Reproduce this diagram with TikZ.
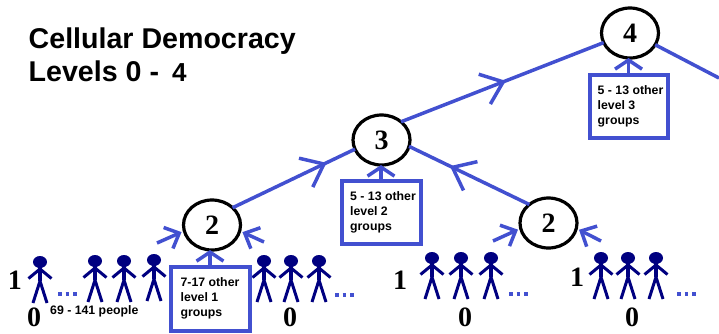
\documentclass[tikz,border=0pt]{standalone}
\usepackage{fontspec}
\setmainfont{Liberation Sans}
\newfontfamily\serifdigits{Liberation Serif}
\usetikzlibrary{shapes.geometric,arrows.meta,decorations.markings}
\definecolor{linkblue}{RGB}{66,80,208}
\definecolor{peoplenavy}{RGB}{0,0,128}
\tikzset{
  level/.style={draw=black,ellipse,line width=3.2pt,minimum width=57pt,minimum height=50pt,inner sep=0pt,outer sep=0pt,fill=white,font=\serifdigits\bfseries\fontsize{28}{28}\selectfont},
  digit/.style={inner sep=0pt,font=\serifdigits\bfseries\fontsize{28}{28}\selectfont},
  otherbox/.style={draw=linkblue,fill=white,line width=4pt,rectangle,inner sep=0pt,outer sep=0pt,align=left,font=\bfseries\fontsize{12.3}{15}\selectfont},
  link/.style={draw=linkblue,line width=3.5pt},
  midbarb/.style={decoration={markings,mark=at position #1 with {\arrow[linkblue,line width=3.5pt]{Straight Barb[length=20pt,width=32pt]}}},postaction={decorate}},
  endbarb/.style={-{Straight Barb[length=12pt,width=23pt]},shorten >=3pt},
  upbarb/.style={-{Straight Barb[length=9pt,width=27pt]}},
  dots/.style={draw=linkblue,line width=3.4pt,dash pattern=on 3.5pt off 4pt},
  person/.pic={
    \fill[peoplenavy] (0,0) ellipse[x radius=7,y radius=6];
    \draw[peoplenavy,line width=3.2pt] (0,4) -- (0,19);
    \draw[peoplenavy,line width=3pt] (-11.5,16.5) -- (0,7) -- (11.5,16.5);
    \draw[peoplenavy,line width=3pt] (-7,41) -- (0,19) -- (7,41);
  }
}
\begin{document}
\begin{tikzpicture}[x=1pt,y=-1pt]
\useasboundingbox (0,0) rectangle (719,333);
% people
\foreach \px/\py in {40/262,95/261,124/261,154/260,264/261,291/261,319/261,432/258,461/258,491/258,601/258,628/258,656/258}
  \pic at (\px,\py) {person};
% dots
\foreach \dx/\dy in {58/294,335/295,509/294,677/294}
  \draw[dots] (\dx,\dy) -- ++(20,0);
% digits 0 and 1
\node[digit] (oneA) at (15,280) {1};
\node[digit] (oneB) at (400,280) {1};
\node[digit] (oneC) at (577,277) {1};
\node[digit] (zeroA) at (34,317) {0};
\node[digit] (zeroB) at (290,317) {0};
\node[digit] (zeroC) at (465,317) {0};
\node[digit] (zeroD) at (632,317) {0};
% level circles
\node[level] (twoA) at (212,225) {2};
\node[level] (twoB) at (548.5,223) {2};
\node[level] (three) at (381.5,140) {3};
\node[level] (four) at (630,33) {4};
% boxes
\node[otherbox,minimum width=79pt,minimum height=64pt] (boxA) at (210,298.5) {7-17 other\\level 1\\groups};
\node[otherbox,minimum width=79pt,minimum height=63pt] (boxB) at (381,212.5) {\hspace*{4pt}5 - 13 other\\\hspace*{4pt}level 2\\\hspace*{4pt}groups};
\node[otherbox,minimum width=78pt,minimum height=63pt] (boxC) at (628.5,106) {\hspace*{4pt}5 - 13 other\\\hspace*{4pt}level  3\\\hspace*{4pt}groups};
% long links
\draw[link,midbarb=0.767] (twoA.40) -- (three.199);
\draw[link,midbarb=0.517] (three.43) -- (four.200);
\draw[link,midbarb=0.66] (twoB.136) -- (three.-13);
\coordinate (offright) at (719,78);
\draw[link] (four.-25) -- (offright);
% short arrows
\coordinate (tailAl) at (157,243);
\coordinate (tailAr) at (264,242);
\coordinate (tailBl) at (493,241);
\coordinate (tailBr) at (601,241);
\draw[link,endbarb] (tailAl) -- (twoA.192);
\draw[link,endbarb] (tailAr) -- (twoA.-12);
\draw[link,endbarb] (tailBl) -- (twoB.191);
\draw[link,endbarb] (tailBr) -- (twoB.-11);
\draw[link,upbarb] (boxA.north) -- (boxA.north |- twoA.south);
\draw[link,upbarb] (boxB.north) -- (boxB.north |- three.south);
\draw[link,upbarb] (boxC.north) -- (boxC.north |- four.south);
% texts
\node[anchor=north west,inner sep=0pt,align=left,font=\bfseries\fontsize{28.6}{33}\selectfont] (title) at (28.5,28) {Cellular Democracy\\Levels 0 - {\fontsize{26}{33}\selectfont\hspace{5pt}4}};
\node[anchor=base west,inner sep=0pt,font=\bfseries\fontsize{12.3}{15}\selectfont] (people) at (50,314) {69 - 141 people};
\end{tikzpicture}
\end{document}
